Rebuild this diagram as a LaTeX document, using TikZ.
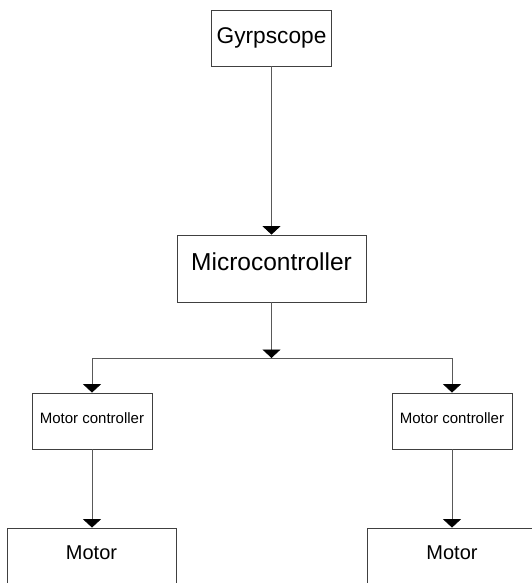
\documentclass[tikz,border=0pt]{standalone}
\usepackage{fontspec}
\setmainfont{Liberation Sans}
\usetikzlibrary{arrows.meta}

\begin{document}
\begin{tikzpicture}[x=1pt,y=-1pt,>={Triangle[width=18pt,length=8.5pt,color=black]},
  every node/.style={inner sep=0pt},
  box/.style={draw=black!75,line width=0.8pt},
  link/.style={draw=black!65,line width=0.8pt}]
  \useasboundingbox (0,0) rectangle (532,583);
  \clip (0,0) rectangle (532,583);
  % boxes
  \node[box,minimum width=120pt,minimum height=56pt,font=\fontsize{22.7}{27}\selectfont] (gyro) at (271.5,38) {Gyrpscope};
  \node[box,minimum width=189pt,minimum height=67pt,text depth=13pt,font=\fontsize{24.5}{29}\selectfont] (micro) at (271.5,268.5) {Microcontroller};
  \node[box,minimum width=120pt,minimum height=56pt,text depth=6pt,font=\fontsize{15}{18}\selectfont] (mcL) at (92,421) {Motor controller};
  \node[box,minimum width=120pt,minimum height=56pt,text depth=6pt,font=\fontsize{15}{18}\selectfont] (mcR) at (452,421) {Motor controller};
  \node[box,minimum width=169pt,minimum height=70pt,text depth=20pt,font=\fontsize{20}{24}\selectfont] (motorL) at (91.5,563) {Motor};
  \node[box,minimum width=169pt,minimum height=70pt,text depth=20pt,font=\fontsize{20}{24}\selectfont] (motorR) at (452,563) {Motor};
  % split
  \coordinate (split) at (271.5,358);
  \coordinate (splitL) at (92,358);
  \coordinate (splitR) at (452,358);
  \draw[link,->] (gyro) -- (micro);
  \draw[link,->] (micro) -- (split);
  \draw[link] (splitL) -- (splitR);
  \draw[link,->] (splitL) -- (mcL);
  \draw[link,->] (splitR) -- (mcR);
  \draw[link,->] (mcL) -- (motorL.north -| mcL);
  \draw[link,->] (mcR) -- (motorR);
\end{tikzpicture}
\end{document}
